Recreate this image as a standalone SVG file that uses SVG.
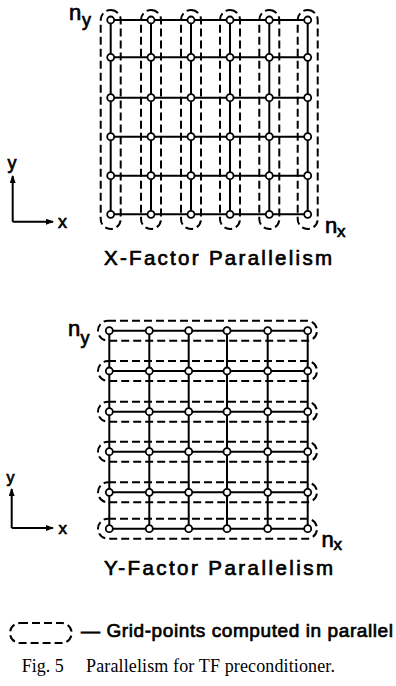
<svg xmlns="http://www.w3.org/2000/svg" width="396" height="686" viewBox="0 0 396 686">
<style>
.grid{stroke:#000;stroke-width:2;fill:none}
.loop{stroke:#000;stroke-width:2;fill:none;stroke-dasharray:8 4}
.node{fill:#fff;stroke:#000;stroke-width:1.8}
.lbl{font-family:"Liberation Sans","DejaVu Sans",Arial,sans-serif;fill:#000;stroke:#000;stroke-width:0.7}
.cap{font-family:"Liberation Serif","Times New Roman",serif;fill:#000;font-size:18px}
.axis{stroke:#000;stroke-width:2;fill:none}
</style>
<defs>
<marker id="arr" markerWidth="8" markerHeight="6" refX="7" refY="3" orient="auto" markerUnits="userSpaceOnUse">
<path d="M0,0 L8,3 L0,6 Z" fill="#000"/>
</marker>
</defs>

<!-- X-Factor grid -->
<g id="xfactor">
<g id="xfactor-loops">
<rect class="loop" x="100.7" y="10" width="20" height="219" rx="10"/>
<rect class="loop" x="141" y="10" width="20" height="219" rx="10"/>
<rect class="loop" x="181" y="10" width="20" height="219" rx="10"/>
<rect class="loop" x="220" y="10" width="20" height="219" rx="10"/>
<rect class="loop" x="259.3" y="10" width="20" height="219" rx="10"/>
<rect class="loop" x="297.7" y="10" width="20" height="219" rx="10"/>
</g>
<g id="xfactor-lines">
<path class="grid" d="M110.7,20H307.7M110.7,57.3H307.7M110.7,97.7H307.7M110.7,136.7H307.7M110.7,175.7H307.7M110.7,214.3H307.7"/>
<path class="grid" d="M110.7,20V214.3M151,20V214.3M191,20V214.3M230,20V214.3M269.3,20V214.3M307.7,20V214.3"/>
</g>
<g id="xfactor-nodes">
<circle class="node" cx="110.7" cy="20" r="3.5"/><circle class="node" cx="151" cy="20" r="3.5"/><circle class="node" cx="191" cy="20" r="3.5"/><circle class="node" cx="230" cy="20" r="3.5"/><circle class="node" cx="269.3" cy="20" r="3.5"/><circle class="node" cx="307.7" cy="20" r="3.5"/>
<circle class="node" cx="110.7" cy="57.3" r="3.5"/><circle class="node" cx="151" cy="57.3" r="3.5"/><circle class="node" cx="191" cy="57.3" r="3.5"/><circle class="node" cx="230" cy="57.3" r="3.5"/><circle class="node" cx="269.3" cy="57.3" r="3.5"/><circle class="node" cx="307.7" cy="57.3" r="3.5"/>
<circle class="node" cx="110.7" cy="97.7" r="3.5"/><circle class="node" cx="151" cy="97.7" r="3.5"/><circle class="node" cx="191" cy="97.7" r="3.5"/><circle class="node" cx="230" cy="97.7" r="3.5"/><circle class="node" cx="269.3" cy="97.7" r="3.5"/><circle class="node" cx="307.7" cy="97.7" r="3.5"/>
<circle class="node" cx="110.7" cy="136.7" r="3.5"/><circle class="node" cx="151" cy="136.7" r="3.5"/><circle class="node" cx="191" cy="136.7" r="3.5"/><circle class="node" cx="230" cy="136.7" r="3.5"/><circle class="node" cx="269.3" cy="136.7" r="3.5"/><circle class="node" cx="307.7" cy="136.7" r="3.5"/>
<circle class="node" cx="110.7" cy="175.7" r="3.5"/><circle class="node" cx="151" cy="175.7" r="3.5"/><circle class="node" cx="191" cy="175.7" r="3.5"/><circle class="node" cx="230" cy="175.7" r="3.5"/><circle class="node" cx="269.3" cy="175.7" r="3.5"/><circle class="node" cx="307.7" cy="175.7" r="3.5"/>
<circle class="node" cx="110.7" cy="214.3" r="3.5"/><circle class="node" cx="151" cy="214.3" r="3.5"/><circle class="node" cx="191" cy="214.3" r="3.5"/><circle class="node" cx="230" cy="214.3" r="3.5"/><circle class="node" cx="269.3" cy="214.3" r="3.5"/><circle class="node" cx="307.7" cy="214.3" r="3.5"/>
</g>
<g id="xfactor-labels">
<text class="lbl" x="69" y="20" font-size="22">n</text>
<text class="lbl" x="82" y="26" font-size="18">y</text>
<text class="lbl" x="325" y="233" font-size="22">n</text>
<text class="lbl" x="337" y="237" font-size="17">x</text>
<text class="lbl" x="104" y="265" font-size="20.5" textLength="228" lengthAdjust="spacing">X-Factor Parallelism</text>
</g>
<g id="xfactor-axes">
<path class="axis" d="M12.7,221.7V176" marker-end="url(#arr)"/>
<path class="axis" d="M12.7,221.7H53" marker-end="url(#arr)"/>
<text class="lbl" x="7.5" y="169" font-size="18">y</text>
<text class="lbl" x="58" y="228" font-size="18">x</text>
</g>
</g>

<!-- Y-Factor grid -->
<g id="yfactor">
<g id="yfactor-loops">
<rect class="loop" x="98" y="320.7" width="219" height="20" rx="10"/>
<rect class="loop" x="98" y="361" width="219" height="20" rx="10"/>
<rect class="loop" x="98" y="401.7" width="219" height="20" rx="10"/>
<rect class="loop" x="98" y="441.7" width="219" height="20" rx="10"/>
<rect class="loop" x="98" y="482.3" width="219" height="20" rx="10"/>
<rect class="loop" x="98" y="518.7" width="219" height="20" rx="10"/>
</g>
<g id="yfactor-lines">
<path class="grid" d="M109.3,330.7H307.7M109.3,371H307.7M109.3,411.7H307.7M109.3,451.7H307.7M109.3,492.3H307.7M109.3,528.7H307.7"/>
<path class="grid" stroke-width="2.4" d="M109.3,330.7V528.7M149.3,330.7V528.7M188.7,330.7V528.7M227,330.7V528.7M267.7,330.7V528.7M307.7,330.7V528.7"/>
</g>
<g id="yfactor-nodes">
<circle class="node" cx="109.3" cy="330.7" r="3.5"/><circle class="node" cx="149.3" cy="330.7" r="3.5"/><circle class="node" cx="188.7" cy="330.7" r="3.5"/><circle class="node" cx="227" cy="330.7" r="3.5"/><circle class="node" cx="267.7" cy="330.7" r="3.5"/><circle class="node" cx="307.7" cy="330.7" r="3.5"/>
<circle class="node" cx="109.3" cy="371" r="3.5"/><circle class="node" cx="149.3" cy="371" r="3.5"/><circle class="node" cx="188.7" cy="371" r="3.5"/><circle class="node" cx="227" cy="371" r="3.5"/><circle class="node" cx="267.7" cy="371" r="3.5"/><circle class="node" cx="307.7" cy="371" r="3.5"/>
<circle class="node" cx="109.3" cy="411.7" r="3.5"/><circle class="node" cx="149.3" cy="411.7" r="3.5"/><circle class="node" cx="188.7" cy="411.7" r="3.5"/><circle class="node" cx="227" cy="411.7" r="3.5"/><circle class="node" cx="267.7" cy="411.7" r="3.5"/><circle class="node" cx="307.7" cy="411.7" r="3.5"/>
<circle class="node" cx="109.3" cy="451.7" r="3.5"/><circle class="node" cx="149.3" cy="451.7" r="3.5"/><circle class="node" cx="188.7" cy="451.7" r="3.5"/><circle class="node" cx="227" cy="451.7" r="3.5"/><circle class="node" cx="267.7" cy="451.7" r="3.5"/><circle class="node" cx="307.7" cy="451.7" r="3.5"/>
<circle class="node" cx="109.3" cy="492.3" r="3.5"/><circle class="node" cx="149.3" cy="492.3" r="3.5"/><circle class="node" cx="188.7" cy="492.3" r="3.5"/><circle class="node" cx="227" cy="492.3" r="3.5"/><circle class="node" cx="267.7" cy="492.3" r="3.5"/><circle class="node" cx="307.7" cy="492.3" r="3.5"/>
<circle class="node" cx="109.3" cy="528.7" r="3.5"/><circle class="node" cx="149.3" cy="528.7" r="3.5"/><circle class="node" cx="188.7" cy="528.7" r="3.5"/><circle class="node" cx="227" cy="528.7" r="3.5"/><circle class="node" cx="267.7" cy="528.7" r="3.5"/><circle class="node" cx="307.7" cy="528.7" r="3.5"/>
</g>
<g id="yfactor-labels">
<text class="lbl" x="68" y="336" font-size="22">n</text>
<text class="lbl" x="80.5" y="344" font-size="18">y</text>
<text class="lbl" x="321.5" y="546.7" font-size="22">n</text>
<text class="lbl" x="333.5" y="550" font-size="17">x</text>
<text class="lbl" x="104" y="575" font-size="20.5" textLength="229" lengthAdjust="spacing">Y-Factor Parallelism</text>
</g>
<g id="yfactor-axes">
<path class="axis" d="M11.7,528V489" marker-end="url(#arr)"/>
<path class="axis" d="M11.7,528H53" marker-end="url(#arr)"/>
<text class="lbl" x="6.5" y="483" font-size="16">y</text>
<text class="lbl" x="58.5" y="534" font-size="17">x</text>
</g>
</g>

<!-- Legend -->
<g id="legend">
<rect class="loop" x="10" y="623" width="61.7" height="20" rx="10"/>
<text class="lbl" x="81" y="637" font-size="19" textLength="312" lengthAdjust="spacing">— Grid-points computed in parallel</text>
</g>

<!-- Caption -->
<g id="caption">
<text class="cap" x="21.7" y="671.7">Fig. 5</text>
<text class="cap" x="86" y="671.7" textLength="249" lengthAdjust="spacing">Parallelism for TF preconditioner.</text>
</g>
</svg>
